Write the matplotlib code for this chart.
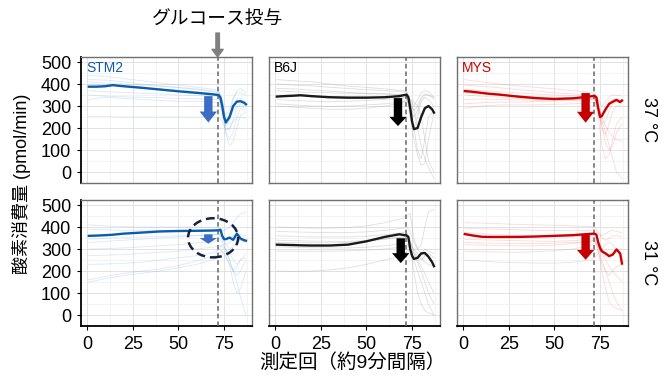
import numpy as np
import matplotlib
matplotlib.use('Agg')
import matplotlib.pyplot as plt
from matplotlib.patches import FancyArrow, Ellipse
from matplotlib.ticker import MultipleLocator

plt.rcParams['font.family'] = ['Liberation Sans', 'Noto Sans CJK JP', 'DejaVu Sans']

# measurement index (about every 9 min), glucose given after index 71.5
x_mean = [1, 5, 10, 14, 20, 30, 40, 50, 60, 68, 72, 73, 74, 75, 76, 78, 80, 82, 84, 86, 87]
x_mice = [1, 10, 20, 30, 40, 50, 60, 70, 72, 74, 76, 78, 80, 82, 84, 87]
glucose_x = 71.5

strains = ['STM2', 'B6J', 'MYS']
temps = ['37 °C', '31 °C']

# ---- 37 °C ----
stm2_37_mean = [388, 388, 390, 395, 390, 383, 375, 367, 360, 354, 350, 340, 300, 250, 225, 250, 300, 320, 322, 315, 308]
stm2_37_mice = [
    [440, 435, 425, 415, 405, 395, 385, 375, 370, 330, 260, 280, 340, 360, 360, 350],
    [420, 418, 410, 400, 392, 385, 378, 368, 365, 320, 230, 240, 300, 330, 335, 320],
    [400, 398, 392, 385, 378, 372, 365, 358, 355, 300, 200, 190, 240, 290, 310, 300],
    [370, 365, 362, 358, 355, 350, 348, 345, 342, 290, 180, 150, 180, 250, 290, 280],
    [350, 345, 342, 340, 338, 335, 333, 330, 330, 280, 210, 230, 280, 300, 300, 290],
    [330, 340, 335, 330, 325, 322, 320, 318, 315, 270, 170, 120, 140, 200, 260, 270],
    [253, 252, 250, 250, 250, 250, 250, 250, 250, 230, 190, 200, 230, 250, 250, 245],
    [410, 405, 400, 395, 390, 383, 375, 365, 360, 320, 240, 260, 330, 370, 380, 360],
]
b6j_37_mean = [343, 345, 347, 349, 345, 340, 338, 338, 340, 345, 352, 340, 290, 230, 195, 200, 250, 290, 300, 285, 270]
b6j_37_mice = [
    [420, 415, 410, 400, 390, 385, 378, 370, 365, 330, 300, 330, 360, 370, 365, 340],
    [400, 395, 392, 385, 380, 375, 370, 365, 362, 300, 250, 280, 330, 350, 350, 330],
    [370, 365, 362, 360, 358, 356, 355, 352, 350, 250, 150, 80, 30, 40, 150, 270],
    [330, 325, 322, 320, 322, 325, 330, 335, 340, 320, 280, 200, 120, 60, 20, -30],
    [310, 305, 300, 298, 300, 305, 310, 320, 330, 300, 200, 100, 60, 150, 250, 280],
    [300, 295, 290, 285, 285, 290, 300, 315, 325, 330, 320, 300, 250, 150, 50, 0],
    [350, 348, 345, 343, 342, 341, 340, 340, 342, 280, 200, 250, 320, 340, 330, 300],
    [380, 378, 372, 368, 362, 358, 355, 352, 350, 310, 280, 300, 340, 355, 350, 340],
]
mys_37_mean = [368, 365, 360, 356, 352, 343, 336, 332, 335, 342, 346, 340, 290, 250, 255, 285, 310, 320, 328, 318, 325]
mys_37_mice = [
    [420, 410, 400, 392, 385, 378, 370, 362, 360, 330, 300, 320, 340, 350, 350, 345],
    [395, 390, 383, 375, 368, 360, 355, 350, 348, 300, 260, 290, 320, 330, 330, 325],
    [375, 370, 365, 360, 355, 350, 348, 346, 345, 280, 200, 170, 220, 280, 300, 300],
    [350, 345, 340, 335, 332, 330, 330, 330, 332, 250, 120, 60, 80, 150, 220, 250],
    [330, 332, 330, 328, 326, 326, 328, 330, 335, 300, 240, 180, 120, 60, 0, -30],
    [290, 300, 305, 305, 305, 308, 310, 315, 320, 290, 250, 210, 180, 160, 150, 140],
    [360, 355, 350, 346, 342, 340, 338, 336, 335, 290, 220, 230, 280, 310, 320, 320],
    [310, 315, 318, 318, 320, 322, 325, 328, 330, 300, 210, 130, 100, 120, 180, 220],
]

# ---- 31 °C ----
stm2_31_mean = [360, 361, 363, 365, 370, 375, 380, 382, 383, 384, 385, 388, 360, 345, 345, 352, 342, 370, 348, 340, 338]
stm2_31_mice = [
    [410, 405, 402, 400, 400, 400, 400, 398, 395, 380, 390, 400, 420, 440, 460, 470],
    [390, 388, 385, 385, 385, 385, 385, 388, 390, 360, 340, 350, 360, 370, 365, 360],
    [330, 335, 340, 345, 350, 355, 360, 365, 370, 350, 320, 300, 310, 330, 340, 330],
    [300, 302, 305, 310, 315, 320, 328, 335, 345, 330, 300, 280, 250, 230, 250, 280],
    [270, 272, 275, 280, 285, 290, 300, 310, 320, 310, 290, 250, 200, 150, 80, 0],
    [230, 232, 235, 240, 250, 260, 270, 285, 300, 290, 260, 230, 200, 220, 250, 260],
    [160, 175, 190, 200, 210, 225, 245, 270, 300, 320, 300, 250, 200, 180, 200, 250],
    [345, 350, 352, 355, 358, 360, 362, 365, 368, 340, 320, 330, 340, 345, 340, 335],
    [150, 165, 180, 190, 200, 215, 230, 255, 280, 290, 270, 230, 150, 100, 120, 200],
]
b6j_31_mean = [320, 319, 318, 317, 316, 316, 320, 335, 355, 367, 362, 355, 300, 270, 255, 260, 280, 282, 265, 240, 222]
b6j_31_mice = [
    [400, 398, 395, 395, 398, 405, 420, 440, 455, 460, 350, 300, 280, 300, 290, 280],
    [380, 378, 376, 375, 375, 378, 385, 395, 400, 380, 330, 300, 320, 400, 470, 480],
    [360, 358, 355, 355, 355, 358, 365, 375, 380, 340, 280, 250, 220, 190, 150, 100],
    [340, 338, 336, 335, 335, 338, 345, 355, 365, 300, 250, 200, 150, 100, 50, 0],
    [310, 308, 306, 305, 305, 308, 315, 325, 340, 320, 300, 280, 260, 240, 230, 220],
    [290, 290, 290, 290, 292, 295, 300, 310, 325, 300, 200, 100, 50, 20, 10, 0],
    [200, 198, 200, 205, 215, 230, 250, 270, 290, 300, 280, 240, 200, 150, 100, 50],
    [330, 330, 328, 328, 330, 335, 345, 355, 360, 330, 290, 260, 250, 270, 280, 260],
]
mys_31_mean = [368, 362, 356, 355, 355, 355, 357, 360, 363, 368, 370, 365, 330, 305, 290, 280, 268, 275, 298, 280, 234]
mys_31_mice = [
    [420, 418, 415, 412, 410, 408, 405, 402, 400, 380, 350, 340, 350, 360, 360, 355],
    [395, 392, 390, 388, 385, 384, 383, 385, 388, 370, 360, 370, 380, 385, 380, 375],
    [375, 370, 365, 362, 358, 356, 356, 358, 362, 340, 300, 270, 260, 280, 300, 300],
    [345, 342, 340, 338, 336, 335, 338, 345, 352, 320, 250, 200, 150, 100, 60, 20],
    [320, 318, 316, 315, 315, 318, 325, 335, 345, 300, 200, 120, 60, 40, 30, 20],
    [290, 288, 286, 285, 288, 292, 300, 315, 330, 310, 280, 250, 220, 200, 180, 150],
    [250, 245, 240, 238, 236, 236, 240, 250, 260, 280, 300, 320, 330, 320, 300, 260],
    [330, 328, 326, 325, 325, 327, 330, 335, 340, 290, 230, 200, 180, 200, 220, 230],
]

means = [[stm2_37_mean, b6j_37_mean, mys_37_mean],
         [stm2_31_mean, b6j_31_mean, mys_31_mean]]
mice = [[stm2_37_mice, b6j_37_mice, mys_37_mice],
        [stm2_31_mice, b6j_31_mice, mys_31_mice]]

# down-arrow (x, top, tip) per panel
arrows = [[(66.4, 345, 225), (67.3, 336, 209), (67.1, 359, 224)],
          [(66.4, 367, 324), (68.8, 349, 236), (67.1, 364, 251)]]
head_len = [[50, 42, 50], [26, 45, 45]]

line_col = ['#0a5cac', '#1a1a1a', '#cc0000']
thin_col = ['#5b9bd5', '#9a9a9a', '#e87070']
thin_alpha = [0.22, 0.32, 0.25]
arrow_col = ['#3b6cc6', '#000000', '#c40000']

fig = plt.figure(figsize=(6.7, 3.85), dpi=100)
W, H = 670, 385
lefts = [81, 269, 457]
tops = [57, 200]
pw, ph = 171, 126

axes = [[None] * 3 for _ in range(2)]
for r in range(2):
    for c in range(3):
        ax = fig.add_axes([lefts[c] / W, 1 - (tops[r] + ph) / H, pw / W, ph / H])
        axes[r][c] = ax
        ax.set_xlim(-3.3, 90.3)
        ax.set_ylim(-50, 523)
        ax.set_xticks([0, 25, 50, 75])
        ax.set_yticks([0, 100, 200, 300, 400, 500])
        ax.xaxis.set_minor_locator(MultipleLocator(12.5))
        ax.yaxis.set_minor_locator(MultipleLocator(50))
        ax.grid(which='major', color='#e2e2e2', lw=0.7)
        ax.grid(which='minor', color='#efefef', lw=0.5)
        ax.set_axisbelow(True)
        for s in ax.spines.values():
            s.set_color('#707070')
            s.set_linewidth(1.0)
        ax.tick_params(which='minor', length=0)
        ax.tick_params(which='major', labelsize=13, length=3, width=0.8, colors='black')
        ax.tick_params(axis='x', pad=4)
        ax.tick_params(axis='y', pad=4)
        if c == 0:
            ax.spines['left'].set_color('black')
            ax.spines['left'].set_linewidth(1.3)
        else:
            ax.tick_params(axis='y', length=0, labelleft=False)
        if r == 1:
            ax.spines['bottom'].set_color('black')
            ax.spines['bottom'].set_linewidth(1.3)
        else:
            ax.tick_params(axis='x', length=0, labelbottom=False)

        for m in mice[r][c]:
            ax.plot(x_mice, m, color=thin_col[c], lw=0.6, alpha=thin_alpha[c], zorder=2)
        ax.axvline(glucose_x, color='#666666', ls=(0, (3, 2)), lw=1.1, zorder=3)
        ax.plot(x_mean, means[r][c], color=line_col[c], lw=1.7, zorder=4)

        ax_x, y0, y1 = arrows[r][c]
        ax.add_patch(FancyArrow(ax_x, y0, 0, y1 - y0, width=4.6, head_width=9.5,
                                head_length=head_len[r][c], length_includes_head=True,
                                color=arrow_col[c], lw=0, zorder=5))
        if r == 0:
            ax.text(0.03, 0.97, strains[c], transform=ax.transAxes, ha='left', va='top',
                    fontsize=10, color=line_col[c] if c != 1 else 'black')

# dashed circle around the STM2 31 °C response
axes[1][0].add_patch(Ellipse((69, 351), 27.4, 178, fill=False, ls=(0, (3.5, 2)),
                             lw=1.8, color='#15233f', zorder=6, clip_on=False))

# glucose annotation
ax0 = axes[0][0]
ax0.annotate('', xy=(glucose_x, 1.0), xytext=(glucose_x, 1.19),
             xycoords=('data', 'axes fraction'), textcoords=('data', 'axes fraction'),
             arrowprops=dict(arrowstyle='simple,head_length=0.55,head_width=0.8,tail_width=0.25',
                             color='#808080', shrinkA=0, shrinkB=0, mutation_scale=10),
             annotation_clip=False)
ax0.text(glucose_x, 1.29, 'グルコース投与', transform=ax0.get_xaxis_transform(),
         ha='center', va='center', fontsize=13.5, clip_on=False)

for r in range(2):
    fig.text(648 / W, 1 - (tops[r] + ph / 2) / H, temps[r], rotation=-90,
             ha='center', va='center', fontsize=13)

fig.text(22 / W, 1 - 184 / H, '酸素消費量 (pmol/min)', rotation=90,
         ha='center', va='center', fontsize=13)
fig.text(352 / W, 1 - 363 / H, '測定回（約9分間隔）', ha='center', va='center', fontsize=14)

fig.savefig('out.png', dpi=100)
